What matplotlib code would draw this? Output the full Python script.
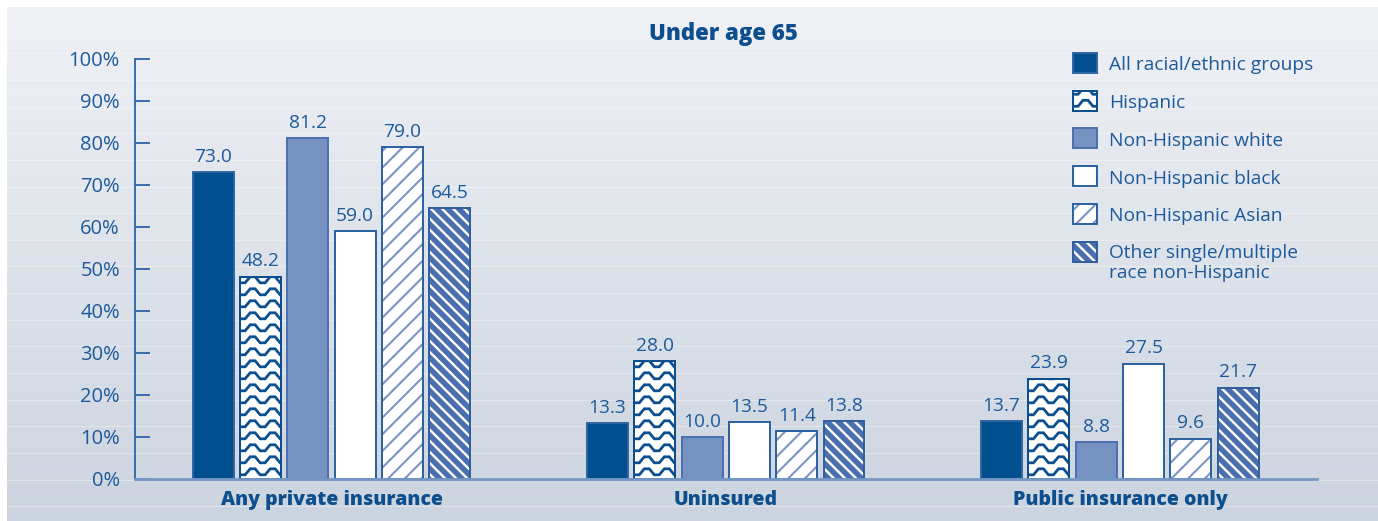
import numpy as np
import matplotlib
matplotlib.use("Agg")
import matplotlib.pyplot as plt
from matplotlib.patches import Rectangle
from matplotlib.lines import Line2D

# ---- data -----------------------------------------------------------------
categories = ["Any private insurance", "Uninsured", "Public insurance only"]
series_names = [
    "All racial/ethnic groups",
    "Hispanic",
    "Non-Hispanic white",
    "Non-Hispanic black",
    "Non-Hispanic Asian",
    "Other single/multiple\nrace non-Hispanic",
]
all_groups = [73.0, 13.3, 13.7]
hispanic = [48.2, 28.0, 23.9]
nh_white = [81.2, 10.0, 8.8]
nh_black = [59.0, 13.5, 27.5]
nh_asian = [79.0, 11.4, 9.6]
other_race = [64.5, 13.8, 21.7]
series_values = [all_groups, hispanic, nh_white, nh_black, nh_asian, other_race]
y_ticks = list(range(0, 101, 10))
title = "Under age 65"

# ---- styling --------------------------------------------------------------
plt.rcParams["font.family"] = ["Open Sans", "DejaVu Sans"]
TXT = "#1d5a9b"
DARK = "#0d4f8e"
styles = [
    dict(face="#00508f", edge="#2f65a2", kind="solid"),
    dict(face="white", edge=DARK, kind="wave"),
    dict(face="#7592c2", edge="#4a70ad", kind="solid"),
    dict(face="white", edge="#2a60a0", kind="solid"),
    dict(face="white", edge="#2a60a0", kind="hatch", hatch="//", hcolor="#7b94c5", hlw=1.5),
    dict(face="#4a6eae", edge="#2f5d9d", kind="hatch", hatch="\\\\\\", hcolor="white", hlw=1.7),
]

W, H = 1378, 521
fig = plt.figure(figsize=(W / 100, H / 100), dpi=100)
fig.patch.set_facecolor("white")

# background panel with a soft vertical gradient
bg = fig.add_axes([7 / W, 0, 1 - 7 / W, 1 - 7 / H])
bg.set_axis_off()
top_c = np.array([0xEF, 0xF1, 0xF5]) / 255
bot_c = np.array([0xCC, 0xD4, 0xDF]) / 255
t = np.linspace(0, 1, 256)[:, None]
grad = (top_c[None, :] * (1 - t) + bot_c[None, :] * t)[:, None, :]
bg.imshow(grad, aspect="auto", extent=[0, 1, 0, 1], origin="upper")
bg.set_xlim(0, 1)
bg.set_ylim(0, 1)
for yy in np.arange(1 - 20 / H, 0, -27 / H):
    bg.axhline(yy, color="white", lw=0.8, alpha=0.35)

# main plotting area
x0, x1 = 134.5, 1317
y_base, y_top = 479, 59
ax = fig.add_axes([x0 / W, (H - y_base) / H, (x1 - x0) / W, (y_base - y_top) / H])
ax.set_facecolor("none")
ax.set_xlim(-0.5, 2.5)
ax.set_ylim(0, 100)

px_x = (x1 - x0) / 3.0           # pixels per x data unit
px_y = (y_base - y_top) / 100.0  # pixels per y data unit

groups = np.arange(len(categories))
step = 0.12
width = 0.104


def wave_fill(axis, patch, x_left, x_right, y_start, y_end, sx, sy, color, lw):
    """Fill a rectangle with rows of chevron waves, clipped to the patch.

    sx, sy: pixels per data unit (sy negative when the y axis is inverted).
    Rows start at y_start and advance towards y_end.
    """
    period = 20 / sx
    amp = 6 / abs(sy) * np.sign(sy)
    gap = 12 / abs(sy) * np.sign(y_end - y_start)
    xs = np.arange(x_left - period, x_right + period, period / 4)
    shape = np.array([0, 0, 1, 1])  # low, low, high, high -> trapezoid wave
    ys_off = amp * shape[np.arange(len(xs)) % 4]
    n_rows = int(abs((y_end - y_start) / gap)) + 2
    base = y_start + 0.35 * gap
    for _ in range(n_rows):
        ln = Line2D(xs, base + ys_off, color=color, lw=lw, solid_capstyle="butt",
                    solid_joinstyle="miter", zorder=patch.get_zorder() + 0.1)
        axis.add_line(ln)
        ln.set_clip_path(patch)
        base += gap


for i, (vals, st) in enumerate(zip(series_values, styles)):
    xs = groups + (i - 2.5) * step
    if st["kind"] == "hatch":
        with plt.rc_context({"hatch.linewidth": st["hlw"]}):
            bars = ax.bar(xs, vals, width, facecolor=st["face"], edgecolor=st["hcolor"],
                          hatch=st["hatch"], linewidth=0, zorder=3)
            for b in bars:
                if hasattr(b, "set_hatch_linewidth"):
                    b.set_hatch_linewidth(st["hlw"])
        ax.bar(xs, vals, width, fill=False, edgecolor=st["edge"], linewidth=1.4, zorder=4)
    else:
        bars = ax.bar(xs, vals, width, facecolor=st["face"], edgecolor=st["edge"],
                      linewidth=1.4, zorder=3)
        if st["kind"] == "wave":
            for b, x, v in zip(bars, xs, vals):
                wave_fill(ax, b, x - width / 2, x + width / 2, 0, v, px_x, px_y, DARK, 2.0)
            ax.bar(xs, vals, width, fill=False, edgecolor=st["edge"], linewidth=1.4, zorder=4)
    for x, v in zip(xs, vals):
        ax.annotate(f"{v:.1f}", (x, v), xytext=(0, 7.5), textcoords="offset points",
                    ha="center", va="baseline", fontsize=13.8, color=TXT)

# axes styling
for s in ["top", "right"]:
    ax.spines[s].set_visible(False)
ax.spines["left"].set_color("#2b64a5")
ax.spines["left"].set_linewidth(1.3)
ax.spines["bottom"].set_color("#7597c4")
ax.spines["bottom"].set_linewidth(2)
ax.spines["bottom"].set_zorder(5)
ax.set_yticks(y_ticks)
ax.set_yticklabels([f"{v}%" for v in y_ticks])
ax.tick_params(axis="y", direction="in", length=11, width=1.3, color="#2b64a5",
               labelsize=14.5, labelcolor=TXT, pad=10.5)
ax.set_xticks(groups)
ax.set_xticklabels(categories, fontsize=14, fontweight="heavy", color=DARK)
ax.tick_params(axis="x", length=0, pad=8)

fig.text(723 / W, 1 - 34 / H, title, ha="center", va="center", fontsize=16,
         fontweight="heavy", color=DARK)

# legend drawn in pixel space
lg = fig.add_axes([0, 0, 1, 1])
lg.set_axis_off()
lg.set_facecolor("none")
lg.set_xlim(0, W)
lg.set_ylim(H, 0)
row_y = [63, 100.5, 138, 176, 213.5, 251.5]
sw_x, sw_w, sw_h = 1073, 24, 20
for name, st, ry in zip(series_names, styles, row_y):
    r0 = Rectangle((sw_x, ry - sw_h / 2), sw_w, sw_h, facecolor=st["face"],
                   edgecolor=st["edge"], linewidth=1.4, zorder=3)
    if st["kind"] == "hatch":
        with plt.rc_context({"hatch.linewidth": st["hlw"]}):
            rh = Rectangle((sw_x, ry - sw_h / 2), sw_w, sw_h, facecolor=st["face"],
                           edgecolor=st["hcolor"], hatch=st["hatch"], linewidth=0, zorder=3)
            if hasattr(rh, "set_hatch_linewidth"):
                rh.set_hatch_linewidth(st["hlw"])
        lg.add_patch(rh)
        r0.set_fill(False)
        r0.set_zorder(4)
    lg.add_patch(r0)
    if st["kind"] == "wave":
        r0.set_zorder(2)
        wave_fill(lg, r0, sw_x, sw_x + sw_w, ry + sw_h / 2, ry - sw_h / 2, 1, -1, DARK, 2.0)
        lg.add_patch(Rectangle((sw_x, ry - sw_h / 2), sw_w, sw_h, fill=False,
                               edgecolor=st["edge"], linewidth=1.4, zorder=4))
    if "\n" in name:
        lg.text(1109, ry - 7, name, ha="left", va="top", fontsize=13.8, color=TXT,
                linespacing=1.08)
    else:
        lg.text(1109, ry + 2.5, name, ha="left", va="center", fontsize=13.8, color=TXT)

fig.savefig("out.png", dpi=100, facecolor=fig.get_facecolor())
